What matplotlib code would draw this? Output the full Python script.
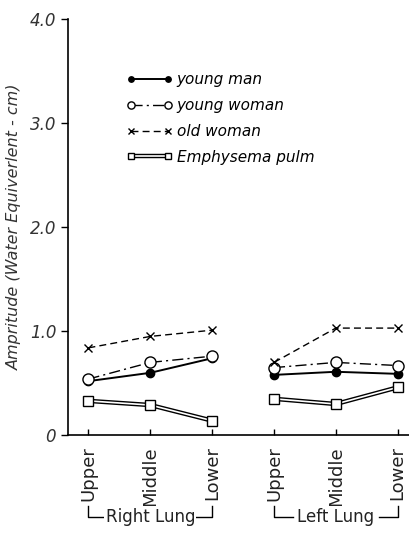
import matplotlib
matplotlib.use("Agg")
import matplotlib.pyplot as plt
from matplotlib.legend_handler import HandlerTuple
import matplotlib.transforms as mtransforms

categories = ["Upper", "Middle", "Lower", "Upper", "Middle", "Lower"]
groups = ["Right Lung", "Left Lung"]
young_man = [0.52, 0.60, 0.74, 0.58, 0.61, 0.59]
young_woman = [0.54, 0.70, 0.76, 0.65, 0.70, 0.67]
old_woman = [0.84, 0.95, 1.01, 0.70, 1.03, 1.03]
emphysema = [0.33, 0.29, 0.14, 0.35, 0.30, 0.46]
yticks = [0, 1.0, 2.0, 3.0, 4.0]
ytick_labels = ["0", "1.0", "2.0", "3.0", "4.0"]

fig = plt.figure(figsize=(4.10, 5.34), dpi=100)
ax = fig.add_axes([0.166, 0.185, 0.834, 0.779])

x = list(range(len(categories)))
segs = [x[:3], x[3:]]
def seg(vals, s):
    return [vals[i] for i in s]

h_ym = h_yw = h_ow = h_e1 = h_e2 = None
for s in segs:
    h_ym, = ax.plot(s, seg(young_man, s), color="black", lw=1.4, marker="o",
                    ms=6, mfc="black", mec="black")
    h_yw, = ax.plot(s, seg(young_woman, s), color="black", lw=1.0, ls=(0, (8, 3, 1.5, 3)),
                    marker="o", ms=8, mfc="white", mec="black", mew=1.0)
    h_ow, = ax.plot(s, seg(old_woman, s), color="black", lw=1.0, ls=(0, (5, 3)),
                    marker="x", ms=6, mec="black", mew=1.0)
    h_e1, = ax.plot(s, seg(emphysema, s), color="black", lw=3.2, solid_capstyle="butt")
    h_e2, = ax.plot(s, seg(emphysema, s), color="white", lw=1.2, marker="s", ms=7,
                    mfc="white", mec="black", mew=1.0, solid_capstyle="butt")

ax.set_xlim(-0.33, 5.2)
ax.set_ylim(0, 4.0)
for sp in ["top", "right"]:
    ax.spines[sp].set_visible(False)
ax.spines["left"].set_linewidth(1.2)
ax.spines["bottom"].set_linewidth(1.2)

ax.set_yticks(yticks)
ax.set_yticklabels(ytick_labels, fontsize=12, style="italic", color="#333333")
ax.tick_params(axis="y", direction="out", length=5, width=1)
ax.set_xticks(x)
ax.set_xticklabels(categories, rotation=90, fontsize=13, color="#222222")
ax.tick_params(axis="x", direction="in", length=4, width=1, pad=8)

ax.set_ylabel("Ampritude (Water Equiverlent - cm)", fontsize=11.5, style="italic",
              color="#333333")
ax.yaxis.set_label_coords(-0.135, 0.5)

leg = ax.legend([h_ym, h_yw, h_ow, (h_e1, h_e2)],
                ["young man", "young woman", "old woman", "Emphysema pulm"],
                handler_map={tuple: HandlerTuple(ndivide=1)},
                loc="upper left", bbox_to_anchor=(0.13, 0.905), frameon=False,
                handlelength=3.0, labelspacing=0.7, handletextpad=0.3,
                numpoints=2, markerscale=0.65,
                prop={"style": "italic", "size": 11})

trans = mtransforms.blended_transform_factory(ax.transData, ax.transAxes)
ybr = -0.196
for (a, b), name in zip([(0, 2), (3, 5)], groups):
    ax.plot([a, a, a + 0.3], [ybr + 0.025, ybr, ybr], color="black", lw=1,
            transform=trans, clip_on=False)
    ax.plot([b - 0.3, b, b], [ybr, ybr, ybr + 0.025], color="black", lw=1,
            transform=trans, clip_on=False)
    ax.text((a + b) / 2, ybr, name, transform=trans, ha="center", va="center",
            fontsize=12, color="#222222", bbox=dict(facecolor="white", edgecolor="none", pad=1))

fig.savefig("out.png", dpi=100)
